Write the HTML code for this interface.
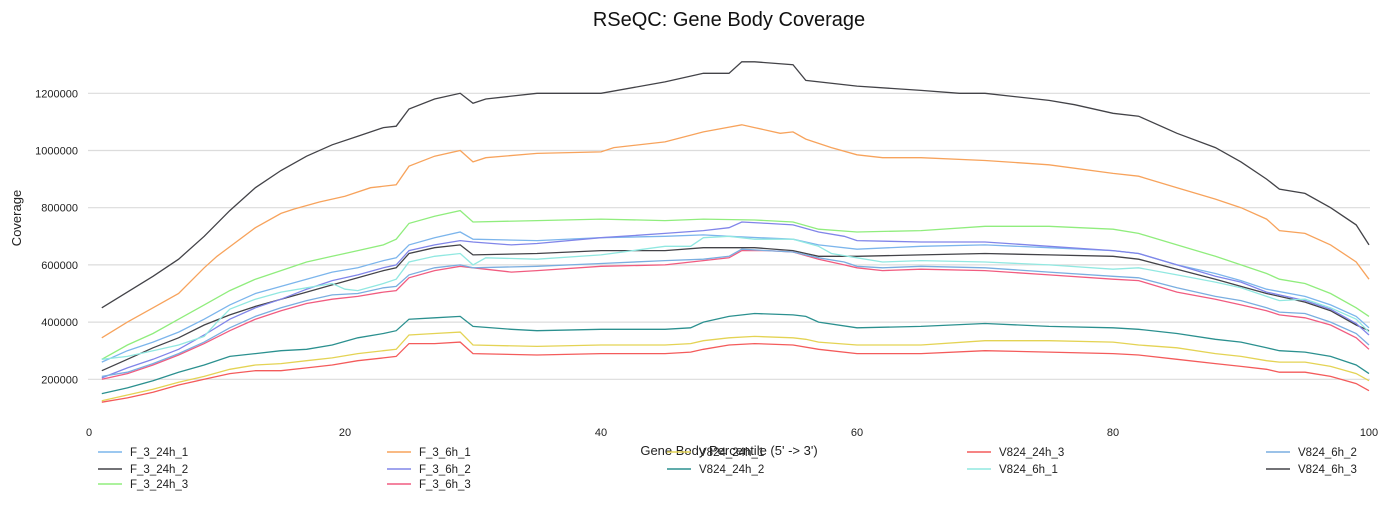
<!DOCTYPE html>
<html><head><meta charset="utf-8"><style>
body{margin:0;background:#fff;font-family:"Liberation Sans",sans-serif;}
svg text{font-family:"Liberation Sans",sans-serif;}
</style></head><body>
<svg id="chart" width="1390" height="505" viewBox="0 0 1390 505" xmlns="http://www.w3.org/2000/svg">
<text x="729" y="26" text-anchor="middle" font-size="20" fill="#111">RSeQC: Gene Body Coverage</text>
<g id="grid"></g>
<g id="series"></g>
<g id="axes"></g>
<text transform="translate(21,218) rotate(-90)" text-anchor="middle" font-size="13" fill="#222">Coverage</text>
<text x="729" y="455" text-anchor="middle" font-size="13" fill="#222">Gene Body Percentile (5' -&gt; 3')</text>
<g id="legend"></g>
</svg>
<script>
const yTicks=[200000,400000,600000,800000,1000000,1200000];
const xTicks=[0,20,40,60,80,100];
const seriesNames=["F_3_24h_1","F_3_24h_2","F_3_24h_3","F_3_6h_1","F_3_6h_2","F_3_6h_3","V824_24h_1","V824_24h_2","V824_24h_3","V824_6h_1","V824_6h_2","V824_6h_3"];
const seriesColors=["#7cb5ec","#434348","#90ed7d","#f7a35c","#8085e9","#f15c80","#e4d354","#2b908f","#f45b5b","#91e8e1","#7aaee0","#434348"];
const pct_F_3_24h_1=[1,3,5,7,9,11,13,15,17,19,21,23,24,25,27,29,30,35,40,45,48,50,55,57,60,65,70,75,80,82,85,88,90,92,95,97,99,100];
const cov_F_3_24h_1=[260,300,330,365,410,460,500,525,550,575,590,615,625,670,695,715,690,685,695,700,705,700,690,670,655,665,670,660,650,640,600,570,545,515,490,460,420,380];
const pct_F_3_24h_2=[1,3,5,7,9,11,13,15,17,19,21,23,24,25,27,29,30,35,40,45,48,50,52,55,57,60,65,70,75,80,82,85,88,90,92,95,97,99,100];
const cov_F_3_24h_2=[230,270,310,345,390,425,455,480,505,530,555,580,590,640,660,670,635,640,650,650,660,660,660,650,630,630,635,640,635,630,620,585,550,525,500,470,440,390,370];
const pct_F_3_24h_3=[1,3,5,7,9,11,13,15,17,19,21,23,24,25,27,29,30,35,40,45,48,52,55,57,60,65,70,75,80,82,85,88,90,92,93,95,97,99,100];
const cov_F_3_24h_3=[270,320,360,410,460,510,550,580,610,630,650,670,690,745,770,790,750,755,760,755,760,757,750,725,715,720,735,735,725,710,670,630,600,570,550,535,500,450,420];
const pct_F_3_6h_1=[1,3,5,7,9,10,13,15,16,18,20,22,24,25,27,29,30,31,35,40,41,45,48,51,52,54,55,56,58,60,62,65,70,75,80,82,85,88,90,92,93,95,97,99,100];
const cov_F_3_6h_1=[345,400,450,500,590,630,730,780,795,820,840,870,880,945,980,1000,960,975,990,995,1010,1030,1065,1090,1080,1060,1065,1040,1010,985,975,975,965,950,920,910,870,830,800,760,720,710,670,610,550];
const pct_F_3_6h_2=[1,3,5,7,9,11,13,15,17,19,21,23,24,25,27,29,30,33,35,40,45,48,50,51,53,55,57,59,60,65,70,75,80,82,85,88,90,92,95,97,99,100];
const cov_F_3_6h_2=[205,240,270,305,355,410,450,480,515,545,565,590,600,650,670,685,680,670,675,695,710,720,730,750,745,740,715,700,685,680,680,665,650,640,600,560,540,505,475,445,395,355];
const pct_F_3_6h_3=[1,3,5,7,9,11,13,15,17,19,21,23,24,25,27,29,30,33,35,40,45,48,50,51,53,55,57,59,60,62,65,70,75,80,82,85,88,90,92,93,95,97,99,100];
const cov_F_3_6h_3=[200,220,250,285,325,370,410,440,465,480,490,505,510,555,580,595,590,575,580,595,600,615,625,650,650,645,620,600,590,580,585,580,565,550,545,505,480,460,440,425,415,390,345,305];
const pct_V824_24h_1=[1,3,5,7,9,11,13,15,17,19,21,23,24,25,27,29,30,35,40,45,47,48,50,52,55,56,57,60,65,70,75,80,82,85,88,90,92,93,95,97,99,100];
const cov_V824_24h_1=[125,145,165,190,210,235,250,255,265,275,290,300,305,355,360,365,320,315,320,320,325,335,345,350,345,340,330,320,320,335,335,330,320,310,290,280,265,260,260,245,220,195];
const pct_V824_24h_2=[1,3,5,7,9,11,13,15,17,19,21,23,24,25,27,29,30,33,35,40,45,47,48,50,52,55,56,57,60,65,70,75,80,82,85,88,90,92,93,95,97,99,100];
const cov_V824_24h_2=[150,170,195,225,250,280,290,300,305,320,345,360,370,410,415,420,385,375,370,375,375,380,400,420,430,425,420,400,380,385,395,385,380,375,360,340,330,310,300,295,280,250,220];
const pct_V824_24h_3=[1,3,5,7,9,11,13,15,17,19,21,23,24,25,27,29,30,35,40,45,47,48,50,52,55,57,60,65,70,75,80,82,85,88,90,92,93,95,97,99,100];
const cov_V824_24h_3=[120,135,155,180,200,220,230,230,240,250,265,275,280,325,325,330,290,285,290,290,295,305,320,325,320,305,290,290,300,295,290,285,270,255,245,235,225,225,210,185,160];
const pct_V824_6h_1=[1,3,5,7,9,10,11,13,15,17,19,20,21,23,24,25,27,29,30,31,35,40,45,47,48,50,52,55,57,58,60,62,65,70,75,80,82,85,88,90,92,93,95,97,99,100];
const cov_V824_6h_1=[270,280,300,320,350,400,445,480,505,520,535,515,510,535,550,610,630,640,600,625,620,635,665,665,695,700,690,690,665,640,625,610,615,610,600,585,590,565,540,520,490,475,480,450,410,365];
const pct_V824_6h_2=[1,3,5,7,9,11,13,15,17,19,21,23,24,25,27,29,30,35,40,45,48,50,51,53,55,57,59,60,62,65,70,75,80,82,85,88,90,92,93,95,97,99,100];
const cov_V824_6h_2=[210,225,255,290,330,380,420,450,475,495,500,520,525,565,590,600,590,595,605,615,620,630,655,650,645,625,610,595,590,595,590,575,560,555,520,490,475,450,435,430,400,360,320];
const pct_V824_6h_3=[1,3,5,7,9,11,13,15,17,19,21,23,24,25,27,29,30,31,35,40,45,48,50,51,52,55,56,60,65,68,70,75,77,80,82,85,88,90,92,93,95,97,99,100];
const cov_V824_6h_3=[450,505,560,620,700,790,870,930,980,1020,1050,1080,1085,1145,1180,1200,1165,1180,1200,1200,1240,1270,1270,1310,1310,1300,1245,1225,1210,1200,1200,1175,1160,1130,1120,1060,1010,960,900,865,850,800,740,670];

const pcts=[pct_F_3_24h_1,pct_F_3_24h_2,pct_F_3_24h_3,pct_F_3_6h_1,pct_F_3_6h_2,pct_F_3_6h_3,pct_V824_24h_1,pct_V824_24h_2,pct_V824_24h_3,pct_V824_6h_1,pct_V824_6h_2,pct_V824_6h_3];
const covs=[cov_F_3_24h_1,cov_F_3_24h_2,cov_F_3_24h_3,cov_F_3_6h_1,cov_F_3_6h_2,cov_F_3_6h_3,cov_V824_24h_1,cov_V824_24h_2,cov_V824_24h_3,cov_V824_6h_1,cov_V824_6h_2,cov_V824_6h_3];

const NS="http://www.w3.org/2000/svg";
function xs(p){return 89+12.8*p;}
function ys(v){return 379.3-(v-200000)*0.000286;}
function mk(tag,attrs,parent){const e=document.createElementNS(NS,tag);for(const k in attrs)e.setAttribute(k,attrs[k]);parent.appendChild(e);return e;}
const grid=document.getElementById('grid'),axes=document.getElementById('axes'),sg=document.getElementById('series'),lg=document.getElementById('legend');
yTicks.forEach(t=>{
  const l=mk('line',{x1:88,x2:1370,y1:ys(t),y2:ys(t),stroke:'#dcdcdc','stroke-width':1.2},grid);
  
  
  const tx=mk('text',{x:78,y:ys(t)+4,'text-anchor':'end','font-size':11,fill:'#222'},axes);
  tx.textContent=t;
  
  
});
xTicks.forEach(t=>{
  const tx=mk('text',{x:xs(t),y:436,'text-anchor':'middle','font-size':11,fill:'#222'},axes);
  tx.textContent=t;
  
  
});
seriesNames.forEach((n,i)=>{
  const d=pcts[i].map((p,j)=>(j?'L':'M')+xs(p).toFixed(1)+','+ys(covs[i][j]*1000).toFixed(1)).join(' ');
  const pth=mk('path',{d:d,fill:'none',stroke:seriesColors[i],'stroke-width':1.3},sg);
  
  
});
const legCols=[98,387,667,967,1266];
const legRows=[452,469,484];
const legLayout=[[0,0],[0,1],[0,2],[1,0],[1,1],[1,2],[2,0],[2,1],[3,0],[3,1],[4,0],[4,1]];
seriesNames.forEach((n,i)=>{
  const c=legCols[legLayout[i][0]],y=legRows[legLayout[i][1]];
  const g=mk('g',{},lg);
  
  
  mk('line',{x1:c,x2:c+24,y1:y,y2:y,stroke:seriesColors[i],'stroke-width':1.5},g);
  const t=mk('text',{x:c+32,y:y+4,'font-size':11.5,fill:'#222'},g);
  t.textContent=n;
});
</script>
</body></html>
